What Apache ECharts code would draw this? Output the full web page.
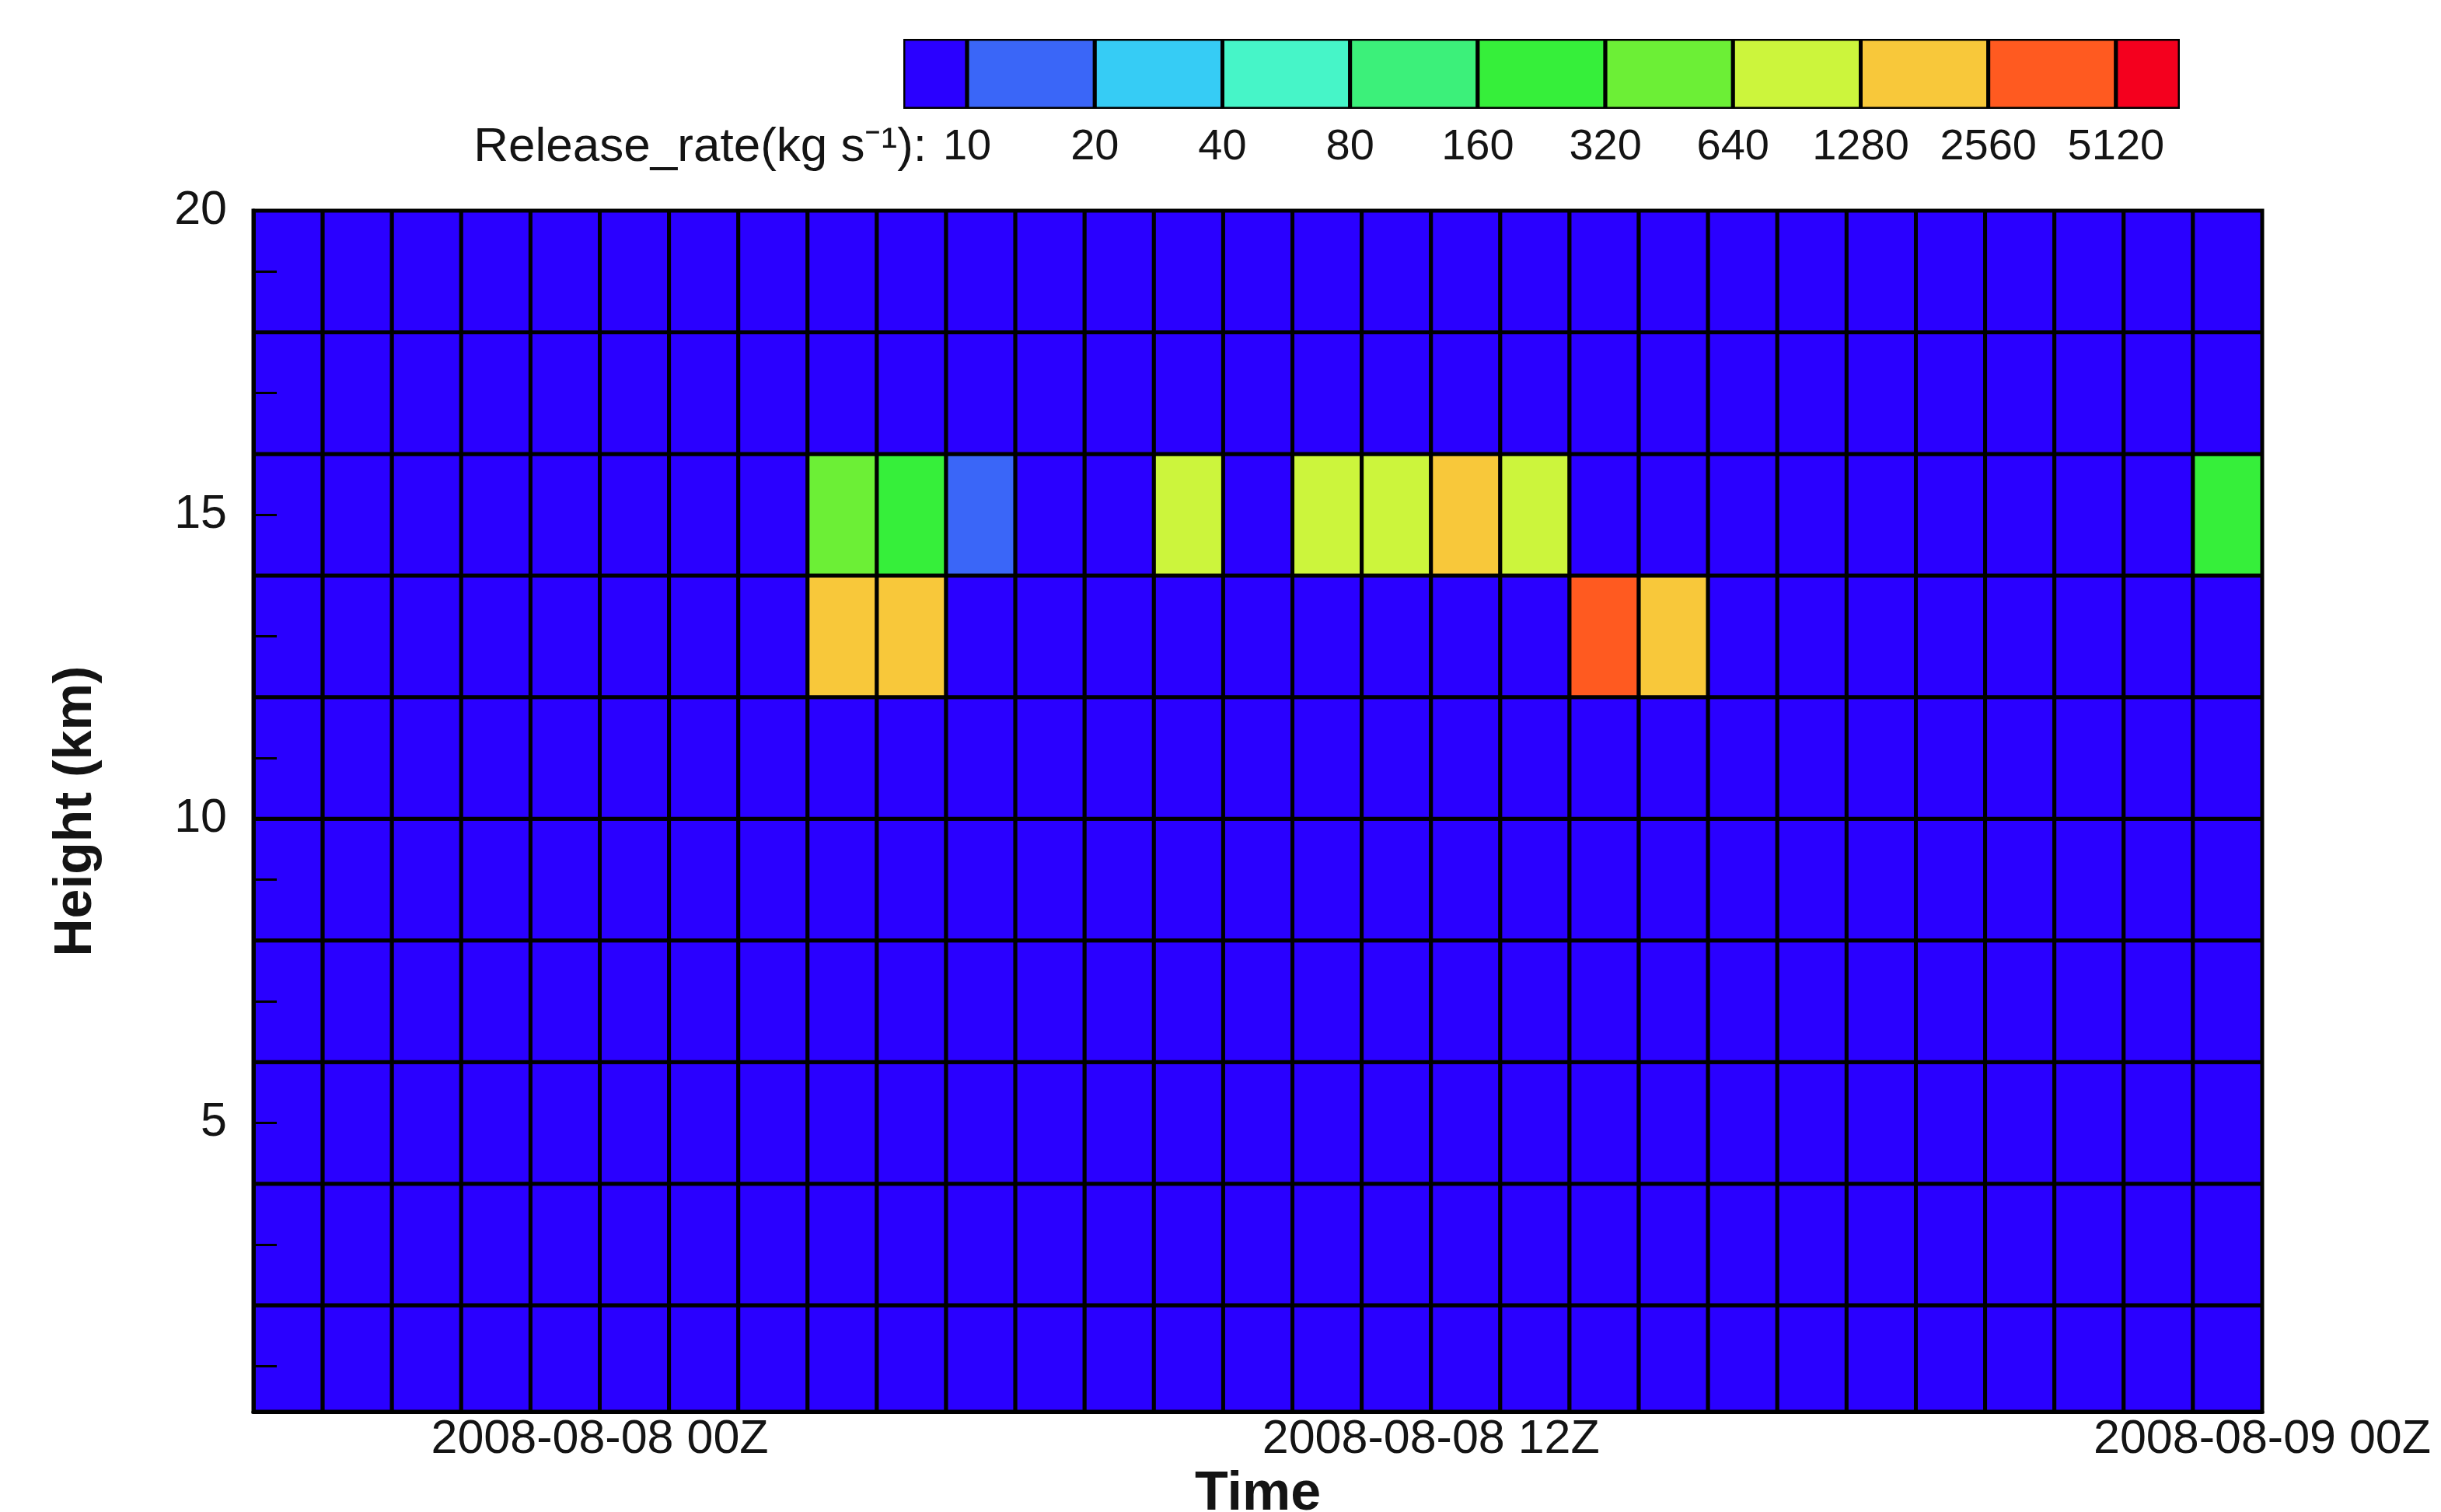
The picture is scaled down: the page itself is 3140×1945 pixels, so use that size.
<!DOCTYPE html>
<html>
<head>
<meta charset="utf-8">
<script src="https://cdn.jsdelivr.net/npm/echarts@6/dist/echarts.min.js"></script>
<style>
html,body{margin:0;padding:0;background:#ffffff;}
#chart{width:3140px;height:1945px;}
</style>
</head>
<body>
<div id="chart"></div>
<script>
// ---------------- DATA ----------------
// Start hour of each 1-hour column, relative to 2008-08-08 00Z (from 2008-08-07 19Z to 2008-08-08 23Z)
const hourStarts = [-5,-4,-3,-2,-1,0,1,2,3,4,5,6,7,8,9,10,11,12,13,14,15,16,17,18,19,20,21,22,23];
// Bottom of each 2-km release layer (km)
const layerBottoms = [0,2,4,6,8,10,12,14,16,18];
const layerThickness = 2;
// Release rate (kg s-1), one row per layer (bottom to top), one value per hour column
const releaseRate = [
  /*  0- 2 km */ [0,0,0,0,0,0,0,0,0,0,0,0,0,0,0,0,0,0,0,0,0,0,0,0,0,0,0,0,0],
  /*  2- 4 km */ [0,0,0,0,0,0,0,0,0,0,0,0,0,0,0,0,0,0,0,0,0,0,0,0,0,0,0,0,0],
  /*  4- 6 km */ [0,0,0,0,0,0,0,0,0,0,0,0,0,0,0,0,0,0,0,0,0,0,0,0,0,0,0,0,0],
  /*  6- 8 km */ [0,0,0,0,0,0,0,0,0,0,0,0,0,0,0,0,0,0,0,0,0,0,0,0,0,0,0,0,0],
  /*  8-10 km */ [0,0,0,0,0,0,0,0,0,0,0,0,0,0,0,0,0,0,0,0,0,0,0,0,0,0,0,0,0],
  /* 10-12 km */ [0,0,0,0,0,0,0,0,0,0,0,0,0,0,0,0,0,0,0,0,0,0,0,0,0,0,0,0,0],
  /* 12-14 km */ [0,0,0,0,0,0,0,0,1900,1700,0,0,0,0,0,0,0,0,0,3800,2000,0,0,0,0,0,0,0,0],
  /* 14-16 km */ [0,0,0,0,0,0,0,0,450,250,15,0,0,900,0,1000,950,1800,1100,0,0,0,0,0,0,0,0,0,280],
  /* 16-18 km */ [0,0,0,0,0,0,0,0,0,0,0,0,0,0,0,0,0,0,0,0,0,0,0,0,0,0,0,0,0],
  /* 18-20 km */ [0,0,0,0,0,0,0,0,0,0,0,0,0,0,0,0,0,0,0,0,0,0,0,0,0,0,0,0,0]
];
// Colour-bar class boundaries (kg s-1)
const rateThresholds = [10,20,40,80,160,320,640,1280,2560,5120];
const classColors = ['#2a00ff','#3a66f8','#36ccf5','#46f5c8','#3cf07a','#36ef3a','#6cef36','#ccf53c','#f8c83a','#ff5a20','#f4001e'];
// Axis ticks / labels
const timeTickValues = [0,12,24];
const timeTickLabels = ['2008-08-08 00Z','2008-08-08 12Z','2008-08-09 00Z'];
const heightTickValues = [1,2,3,4,5,6,7,8,9,10,11,12,13,14,15,16,17,18,19,20];
const heightLabelValues = [5,10,15,20];
const colorbarPrefix = 'Release_rate(kg s\u207B\u00B9):';

// ---------------- BUILD ----------------
function classOf(v){
  let k = 0;
  for (let i = 0; i < rateThresholds.length; i++) { if (v >= rateThresholds[i]) k = i + 1; }
  return k;
}
const cellData = [];
layerBottoms.forEach((z, r) => {
  hourStarts.forEach((h, c) => {
    cellData.push([h, z, releaseRate[r][c]]);
  });
});
const colorbarData = classColors.map((col, k) => [k, k]);

const FONT = '"Liberation Sans", Arial, Helvetica, sans-serif';
const TXT = '#141414';

const chart = echarts.init(document.getElementById('chart'), null, {renderer:'canvas'});
chart.setOption({
  animation: false,
  backgroundColor: '#ffffff',
  textStyle: {fontFamily: FONT},
  grid: [
    {left: 326, right: 230, top: 271, bottom: 129, outerBoundsMode: 'none', containLabel: false,
     show: true, borderColor: '#000', borderWidth: 5, backgroundColor: '#2a00ff'},
    {left: 1162, width: 1642, top: 50, height: 90, outerBoundsMode: 'none', containLabel: false}
  ],
  xAxis: [
    {
      type: 'value', gridIndex: 0, min: -5, max: 24, z: 10,
      axisLine: {show: true, onZero: false, lineStyle: {color: '#000', width: 5}},
      axisTick: {show: true, inside: true, length: 26, customValues: timeTickValues, lineStyle: {color: '#000', width: 3}},
      axisLabel: {customValues: timeTickValues, formatter: v => timeTickLabels[timeTickValues.indexOf(v)],
                  fontSize: 61, color: TXT, margin: 6, fontFamily: FONT},
      splitLine: {show: false},
      name: 'Time', nameLocation: 'middle', nameGap: 64,
      nameTextStyle: {fontSize: 70, fontWeight: 'bold', color: TXT, fontFamily: FONT}
    },
    {
      type: 'value', gridIndex: 1, min: 0.5, max: 10.5,
      axisLine: {show: false}, axisTick: {show: false}, splitLine: {show: false},
      axisLabel: {customValues: [1,2,3,4,5,6,7,8,9,10], formatter: v => String(rateThresholds[v - 1]),
                  fontSize: 56, color: TXT, margin: 22, fontFamily: FONT}
    }
  ],
  yAxis: [
    {
      type: 'value', gridIndex: 0, min: 0.25, max: 20, z: 10,
      axisLine: {show: true, onZero: false, lineStyle: {color: '#000', width: 5}},
      axisTick: {show: true, inside: true, length: 30, customValues: heightTickValues, lineStyle: {color: '#000', width: 3}},
      axisLabel: {customValues: heightLabelValues, fontSize: 61, color: TXT, margin: 34, fontFamily: FONT},
      splitLine: {show: false},
      name: 'Height (km)', nameLocation: 'middle', nameGap: 194,
      nameTextStyle: {fontSize: 68, fontWeight: 'bold', color: TXT, fontFamily: FONT}
    },
    {type: 'value', gridIndex: 1, min: 0, max: 1, show: false}
  ],
  series: [
    {
      type: 'custom', xAxisIndex: 0, yAxisIndex: 0, data: cellData,
      encode: {x: 0, y: 1}, clip: true,
      renderItem: function(params, api){
        const h = api.value(0), z = api.value(1), v = api.value(2);
        const p0 = api.coord([h, z + layerThickness]);
        const p1 = api.coord([h + 1, z]);
        const cs = params.coordSys;
        const shape = echarts.graphic.clipRectByRect(
          {x: p0[0], y: p0[1], width: p1[0] - p0[0], height: p1[1] - p0[1]},
          {x: cs.x, y: cs.y, width: cs.width, height: cs.height});
        if (!shape) return;
        return {type: 'rect', shape: shape, style: {fill: classColors[classOf(v)], stroke: '#000', lineWidth: 5}};
      }
    },
    {
      type: 'custom', xAxisIndex: 1, yAxisIndex: 1, data: colorbarData,
      encode: {x: 0}, clip: true,
      renderItem: function(params, api){
        const k = api.value(0);
        const p0 = api.coord([k, 1]);
        const p1 = api.coord([k + 1, 0]);
        const cs = params.coordSys;
        const shape = echarts.graphic.clipRectByRect(
          {x: p0[0], y: p0[1], width: p1[0] - p0[0], height: p1[1] - p0[1]},
          {x: cs.x, y: cs.y, width: cs.width, height: cs.height});
        if (!shape) return;
        return {type: 'rect', shape: shape, style: {fill: classColors[api.value(1)], stroke: '#000', lineWidth: 5}};
      }
    }
  ],
  graphic: [
    {type: 'text', x: 1192, y: 190, z: 20,
     style: {text: colorbarPrefix, fill: TXT, font: '62px ' + FONT, align: 'right', verticalAlign: 'middle'}}
  ]
});
</script>
</body>
</html>
